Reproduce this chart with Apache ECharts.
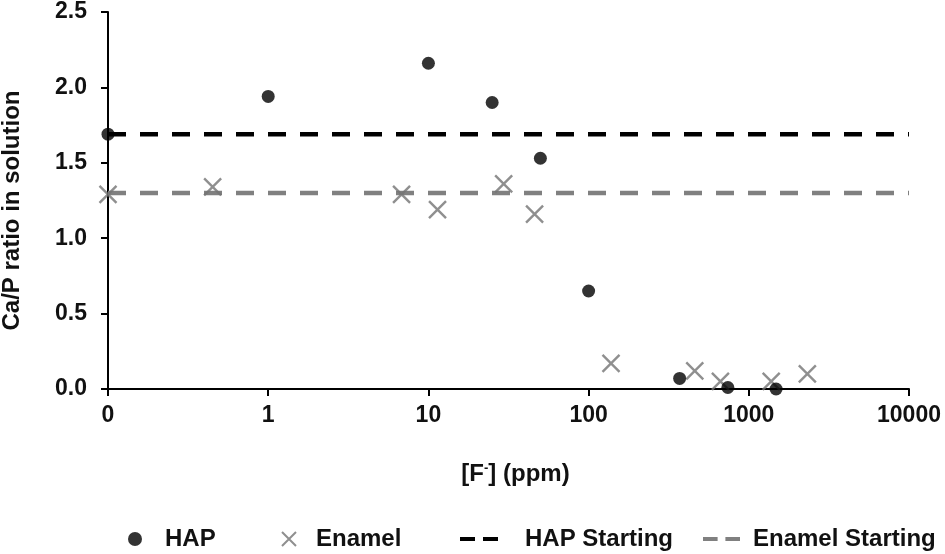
<!DOCTYPE html>
<html>
<head>
<meta charset="utf-8">
<script src="https://cdn.jsdelivr.net/npm/echarts@6/dist/echarts.min.js"></script>
<style>
  html, body { margin: 0; padding: 0; background: #fff; }
  #chart { width: 945px; height: 554px; }
</style>
</head>
<body>
<div id="chart"></div>
<script>
// Ca/P ratio vs fluoride concentration (0 ppm is drawn at the axis start, 0.1)
const hapX = [0.1, 1, 10, 25, 50, 100, 370, 740, 1480]
const hapY = [1.69, 1.94, 2.16, 1.90, 1.53, 0.65, 0.07, 0.01, 0.00]
const enamelX = [0.1, 0.45, 6.8, 11.4, 29.5, 46, 138, 460, 665, 1380, 2320]
const enamelY = [1.29, 1.34, 1.29, 1.19, 1.36, 1.16, 0.17, 0.12, 0.05, 0.05, 0.10]
const startX = [0.1, 10000]
const hapStart = [1.69, 1.69]
const enamelStart = [1.30, 1.30]
const xTicks = [0.1, 1, 10, 100, 1000, 10000]
const xTickLabels = ['0', '1', '10', '100', '1000', '10000']

const zip = (xs, ys) => xs.map((x, i) => [x, ys[i]])

const FONT = 'Liberation Sans, Arial, sans-serif'
const GREY = '#737373'
const crossPath = 'path://M0,0L20,20M20,0L0,20'
const dashPath = 'path://M0,0h15v4h-15zM23,0h15v4h-15z'

const legendText = pad => ({
  fontFamily: FONT,
  fontWeight: 'bold',
  fontSize: 24,
  color: '#111',
  padding: [0, 0, 0, pad]
})

const chart = echarts.init(document.getElementById('chart'))
const option = {
  animation: false,
  grid: {
    left: 108,
    right: 36,
    top: 12,
    bottom: 165,
    containLabel: false,
    outerBoundsMode: 'none'
  },
  legend: [
    {
      data: [{ name: 'HAP', icon: 'circle' }],
      left: 128, top: 527, padding: 0, itemWidth: 14, itemHeight: 14,
      selectedMode: false, textStyle: legendText(18)
    },
    {
      data: [{ name: 'Enamel', icon: crossPath }],
      left: 281, top: 527, padding: 0, itemWidth: 18, itemHeight: 14,
      selectedMode: false, textStyle: legendText(13)
    },
    {
      data: [{ name: 'HAP Starting', icon: dashPath }],
      left: 460, top: 527, padding: 0, itemWidth: 38, itemHeight: 5,
      itemStyle: { borderWidth: 0 },
      selectedMode: false, textStyle: legendText(22)
    },
    {
      data: [{ name: 'Enamel Starting', icon: dashPath }],
      left: 703, top: 527, padding: 0, itemWidth: 37, itemHeight: 5,
      itemStyle: { borderWidth: 0 },
      selectedMode: false, textStyle: legendText(8)
    }
  ],
  xAxis: {
    type: 'log',
    logBase: 10,
    min: 0.1,
    max: 10000,
    name: '[F{sup|-}] (ppm)',
    nameLocation: 'middle',
    nameGap: 73,
    nameTextStyle: {
      fontFamily: FONT, fontWeight: 'bold', fontSize: 24, color: '#111',
      padding: [0, 0, 0, 14],
      rich: {
        sup: { fontFamily: FONT, fontWeight: 'bold', fontSize: 13, color: '#111', verticalAlign: 'top', padding: [0, 0, 11, 0] }
      }
    },
    axisLine: { lineStyle: { color: '#000', width: 2 } },
    axisTick: { length: 7, lineStyle: { color: '#000', width: 2 } },
    axisLabel: {
      margin: 15,
      fontFamily: FONT, fontWeight: 'bold', fontSize: 23, color: '#111',
      formatter: v => {
        const i = xTicks.findIndex(t => Math.abs(Math.log10(t) - Math.log10(v)) < 1e-6)
        return i >= 0 ? xTickLabels[i] : ''
      }
    },
    splitLine: { show: false }
  },
  yAxis: {
    type: 'value',
    min: 0,
    max: 2.5,
    interval: 0.5,
    name: 'Ca/P ratio in solution',
    nameLocation: 'middle',
    nameRotate: 90,
    nameGap: 84,
    nameTextStyle: {
      fontFamily: FONT, fontWeight: 'bold', fontSize: 24, color: '#111',
      padding: [0, 20, 0, 0]
    },
    axisLine: { show: true, lineStyle: { color: '#000', width: 2 } },
    axisTick: { show: true, length: 7, lineStyle: { color: '#000', width: 2 } },
    axisLabel: {
      margin: 21,
      fontFamily: FONT, fontWeight: 'bold', fontSize: 23, color: '#111',
      formatter: v => v.toFixed(1)
    },
    splitLine: { show: false }
  },
  series: [
    {
      name: 'HAP Starting',
      type: 'line',
      data: zip(startX, hapStart),
      symbol: 'none',
      itemStyle: { color: '#000' },
      lineStyle: { color: '#000', width: 4.5, type: [18, 14] },
      z: 2
    },
    {
      name: 'Enamel Starting',
      type: 'line',
      data: zip(startX, enamelStart),
      symbol: 'none',
      itemStyle: { color: '#808080' },
      lineStyle: { color: '#808080', width: 4.5, type: [18, 14] },
      z: 2
    },
    {
      name: 'Enamel',
      type: 'scatter',
      data: zip(enamelX, enamelY),
      symbol: crossPath,
      symbolSize: 17,
      clip: false,
      itemStyle: { color: GREY, borderColor: GREY, borderWidth: 2.4 },
      z: 3
    },
    {
      name: 'HAP',
      type: 'scatter',
      data: zip(hapX, hapY),
      symbol: 'circle',
      symbolSize: 13,
      clip: false,
      itemStyle: { color: '#000' },
      z: 4
    }
  ]
}
chart.setOption(option)
</script>
</body>
</html>
